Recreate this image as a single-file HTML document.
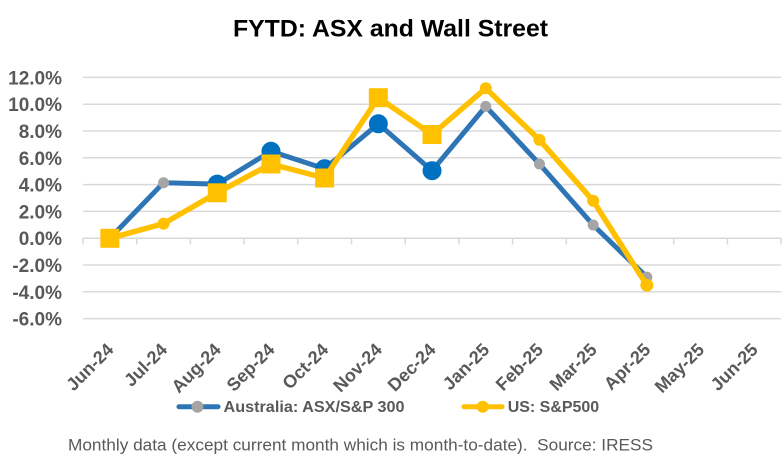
<!DOCTYPE html>
<html><head><meta charset="utf-8"><style>
html,body{margin:0;padding:0;background:#fff;}
svg{display:block;}
text{font-family:"Liberation Sans",Arial,sans-serif;}
</style></head><body>
<svg width="783" height="465" viewBox="0 0 783 465" xmlns="http://www.w3.org/2000/svg">
<rect width="783" height="465" fill="#fff"/>
<text x="390.5" y="36.5" text-anchor="middle" font-size="24" font-weight="bold" fill="#000" textLength="315" lengthAdjust="spacingAndGlyphs">FYTD: ASX and Wall Street</text>
<g stroke="#D9D9D9" stroke-width="1.5">
<line x1="83" x2="781" y1="77.4" y2="77.4"/>
<line x1="83" x2="781" y1="104.2" y2="104.2"/>
<line x1="83" x2="781" y1="131" y2="131"/>
<line x1="83" x2="781" y1="157.8" y2="157.8"/>
<line x1="83" x2="781" y1="184.6" y2="184.6"/>
<line x1="83" x2="781" y1="211.4" y2="211.4"/>
<line x1="83" x2="781" y1="238.2" y2="238.2"/>
<line x1="83" x2="781" y1="265" y2="265"/>
<line x1="83" x2="781" y1="291.8" y2="291.8"/>
<line x1="83" x2="781" y1="318.6" y2="318.6"/>
<line x1="83" x2="83" y1="238.2" y2="244.5"/>
<line x1="136.7" x2="136.7" y1="238.2" y2="244.5"/>
<line x1="190.4" x2="190.4" y1="238.2" y2="244.5"/>
<line x1="244.1" x2="244.1" y1="238.2" y2="244.5"/>
<line x1="297.8" x2="297.8" y1="238.2" y2="244.5"/>
<line x1="351.5" x2="351.5" y1="238.2" y2="244.5"/>
<line x1="405.2" x2="405.2" y1="238.2" y2="244.5"/>
<line x1="458.9" x2="458.9" y1="238.2" y2="244.5"/>
<line x1="512.6" x2="512.6" y1="238.2" y2="244.5"/>
<line x1="566.3" x2="566.3" y1="238.2" y2="244.5"/>
<line x1="620" x2="620" y1="238.2" y2="244.5"/>
<line x1="673.7" x2="673.7" y1="238.2" y2="244.5"/>
<line x1="727.4" x2="727.4" y1="238.2" y2="244.5"/>
<line x1="781" x2="781" y1="238.2" y2="244.5"/>
</g>
<g font-size="19" font-weight="bold" fill="#595959" text-anchor="end">
<text x="62" y="84.4">12.0%</text>
<text x="62" y="111.2">10.0%</text>
<text x="62" y="138">8.0%</text>
<text x="62" y="164.8">6.0%</text>
<text x="62" y="191.6">4.0%</text>
<text x="62" y="218.4">2.0%</text>
<text x="62" y="245.2">0.0%</text>
<text x="62" y="272">-2.0%</text>
<text x="62" y="298.8">-4.0%</text>
<text x="62" y="325.6">-6.0%</text>
</g>
<g font-size="18" font-weight="bold" fill="#595959" text-anchor="end">
<text transform="translate(114.6,350.8) rotate(-45)">Jun-24</text>
<text transform="translate(168.3,350.8) rotate(-45)">Jul-24</text>
<text transform="translate(222,350.8) rotate(-45)">Aug-24</text>
<text transform="translate(275.7,350.8) rotate(-45)">Sep-24</text>
<text transform="translate(329.4,350.8) rotate(-45)">Oct-24</text>
<text transform="translate(383.1,350.8) rotate(-45)">Nov-24</text>
<text transform="translate(436.8,350.8) rotate(-45)">Dec-24</text>
<text transform="translate(490.5,350.8) rotate(-45)">Jan-25</text>
<text transform="translate(544.2,350.8) rotate(-45)">Feb-25</text>
<text transform="translate(597.9,350.8) rotate(-45)">Mar-25</text>
<text transform="translate(651.6,350.8) rotate(-45)">Apr-25</text>
<text transform="translate(705.3,350.8) rotate(-45)">May-25</text>
<text transform="translate(759,350.8) rotate(-45)">Jun-25</text>
</g>
<!-- ASX series -->
<polyline fill="none" stroke="#2E75B6" stroke-width="5" stroke-linejoin="round" stroke-linecap="round"
 points="109.85,238.3 163.55,182.7 217.25,184.1 270.95,151.3 324.65,168.7 378.35,123.8 432.05,170.7 485.75,106.4 539.45,164.0 593.15,225.0 646.85,277.1"/>
<g fill="#A5A5A5">
<circle cx="109.85" cy="238.3" r="5.5"/>
<circle cx="163.55" cy="182.7" r="5.5"/>
<circle cx="485.75" cy="106.4" r="5.5"/>
<circle cx="539.45" cy="164.0" r="5.5"/>
<circle cx="593.15" cy="225.0" r="5.5"/>
<circle cx="646.85" cy="277.1" r="5.5"/>
</g>
<g fill="#0070C0">
<circle cx="217.25" cy="184.1" r="9.5"/>
<circle cx="270.95" cy="151.3" r="9.5"/>
<circle cx="324.65" cy="168.7" r="9.5"/>
<circle cx="378.35" cy="123.8" r="9.5"/>
<circle cx="432.05" cy="170.7" r="9.5"/>
</g>
<!-- US series -->
<polyline fill="none" stroke="#FFC000" stroke-width="5.5" stroke-linejoin="round" stroke-linecap="round"
 points="109.85,238.3 163.55,223.6 217.25,192.8 270.95,164.0 324.65,178.0 378.35,97.7 432.05,134.5 485.75,88.3 539.45,139.9 593.15,200.8 646.85,285.2"/>
<g fill="#FFC000">
<circle cx="163.55" cy="223.6" r="6"/>
<circle cx="485.75" cy="88.3" r="6"/>
<circle cx="539.45" cy="139.9" r="6"/>
<circle cx="593.15" cy="200.8" r="6"/>
<circle cx="646.85" cy="285.2" r="6.5"/>
<rect x="100.35" y="228.8" width="19" height="19"/>
<rect x="207.75" y="183.3" width="19" height="19"/>
<rect x="261.45" y="154.5" width="19" height="19"/>
<rect x="315.15" y="168.5" width="19" height="19"/>
<rect x="368.85" y="88.2" width="19" height="19"/>
<rect x="422.55" y="125" width="19" height="19"/>
</g>
<!-- Legend -->
<line x1="179" y1="406.7" x2="218" y2="406.7" stroke="#2E75B6" stroke-width="5" stroke-linecap="round"/>
<circle cx="197.5" cy="406.7" r="6" fill="#A5A5A5"/>
<text x="223.5" y="412" font-size="16" font-weight="bold" fill="#595959" textLength="181" lengthAdjust="spacingAndGlyphs">Australia: ASX/S&amp;P 300</text>
<line x1="464" y1="406.7" x2="502" y2="406.7" stroke="#FFC000" stroke-width="5" stroke-linecap="round"/>
<circle cx="482.7" cy="406.7" r="6" fill="#FFC000"/>
<text x="507.7" y="412" font-size="16" font-weight="bold" fill="#595959" textLength="91.5" lengthAdjust="spacingAndGlyphs">US: S&amp;P500</text>
<text x="68" y="450.7" font-size="17" fill="#595959" textLength="585" lengthAdjust="spacingAndGlyphs">Monthly data (except current month which is month-to-date).&#160; Source: IRESS</text>
</svg>
</body></html>
